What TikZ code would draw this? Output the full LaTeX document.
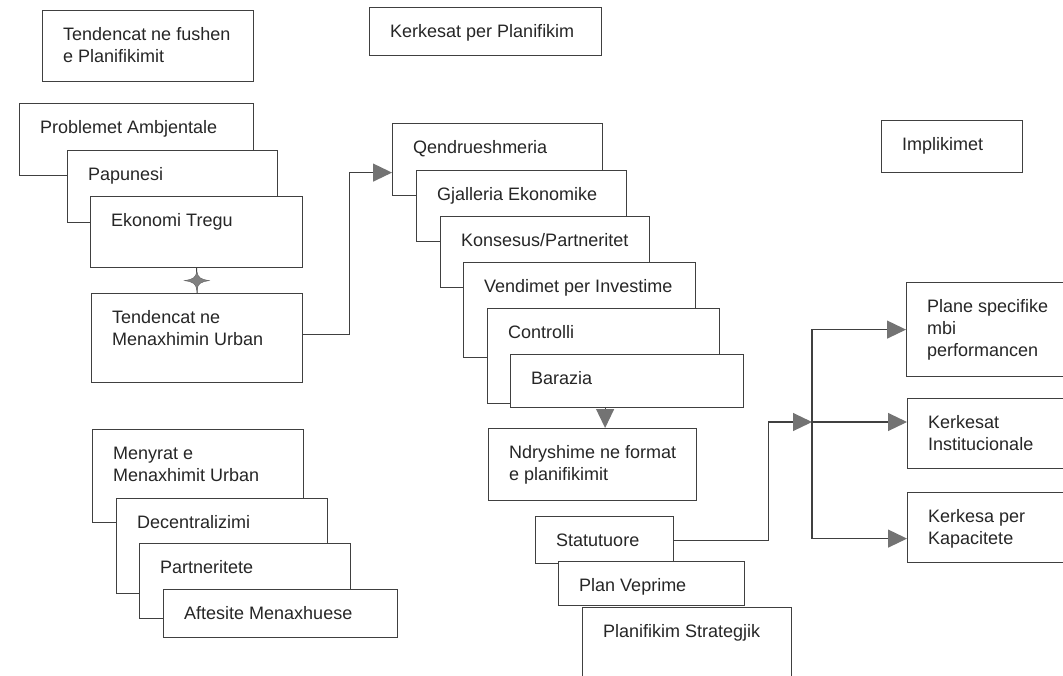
\documentclass[tikz,border=0pt]{standalone}
\usepackage{fontspec}
\setmainfont{Liberation Sans}
\usetikzlibrary{arrows.meta,calc}
\tikzset{
  box/.style={draw=black!75, line width=1.2pt, fill=white, inner sep=0pt, anchor=north west, rectangle},
  txt/.style={anchor=north west, inner sep=0pt, align=left, text=black!85, font=\fontsize{18}{22}\selectfont},
  conn/.style={draw=black!75, line width=1.1pt},
  tip/.style={-{Triangle[length=19pt,width=18pt,color=black!55]}},
  sparkle/.style={fill=black!50, draw=black!60, line width=0.4pt}
}
\newcommand\bx[6]{%
  \node[box, minimum width={#4pt-#2pt}, minimum height={#5pt-#3pt}] (#1) at (#2,#3) {};
  \node[txt] (#1-t) at ([shift={(21,16)}]#1.north west) {\rule{0pt}{14pt}#6};
}
\begin{document}
\begin{tikzpicture}[x=1pt,y=-1pt]
\useasboundingbox (0,0) rectangle (1063,675);
\fill[white] (0,0) rectangle (1063,675);
\clip (0,0) rectangle (1063,675);
% headers
\bx{tfp}{42}{10}{253}{81}{Tendencat ne fushen\\e Planifikimit}
\bx{kpp}{369}{7}{601}{55}{Kerkesat per Planifikim}
\bx{imp}{881}{120}{1022}{172}{Implikimet}
% left stack
\bx{pa}{19}{103}{253}{175}{Problemet Ambjentale}
\bx{pap}{67}{150}{277}{222}{Papunesi}
\bx{eko}{90}{196}{302}{267}{Ekonomi Tregu}
\bx{tmu}{91}{293}{302}{382}{Tendencat ne\\Menaxhimin Urban}
% middle stack
\bx{qen}{392}{123}{602}{195}{Qendrueshmeria}
\bx{gja}{416}{170}{626}{241}{Gjalleria Ekonomike}
\bx{kon}{440}{216}{649}{287}{Konsesus/Partneritet}
\bx{ven}{463}{262}{695}{357}{Vendimet per Investime}
\bx{con}{487}{308}{719}{403}{Controlli}
\bx{bar}{510}{354}{743}{407}{Barazia}
\bx{ndr}{488}{428}{696}{500}{Ndryshime ne format\\e planifikimit}
% lower left stack
\bx{men}{92}{429}{303}{522}{Menyrat e\\Menaxhimit Urban}
\bx{dec}{116}{498}{327}{593}{Decentralizimi}
\bx{par}{139}{543}{350}{618}{Partneritete}
\bx{aft}{163}{589}{397}{637}{Aftesite Menaxhuese}
% lower middle stack
\bx{sta}{535}{516}{673}{563}{Statutuore}
\bx{plv}{558}{561}{744}{605}{Plan Veprime}
\bx{pst}{582}{607}{791}{700}{Planifikim Strategjik}
% right column
\bx{pls}{906}{282}{1075}{376}{Plane specifike\\mbi\\performancen}
\bx{ins}{907}{398}{1075}{468}{Kerkesat\\Institucionale}
\bx{kap}{907}{492}{1075}{562}{Kerkesa per\\Kapacitete}
% connectors
\draw[conn] (eko.south) -- (tmu.north);
\coordinate (st) at ($(eko.south)!0.5!(tmu.north)$);
\begin{scope}[shift={(st)}]
  \filldraw[sparkle] (-12.5,0) .. controls (-3,-1.5) and (-1.5,-3) .. (0,-9)
    .. controls (1.5,-3) and (3,-1.5) .. (12.5,0)
    .. controls (3,1.5) and (1.5,3) .. (0,9)
    .. controls (-1.5,3) and (-3,1.5) .. (-12.5,0) -- cycle;
\end{scope}
\draw[conn,tip] ([yshift=3.5pt]tmu.east) -- ++(46,0) |- ([yshift=-13pt]qen.west);
\draw[conn,tip] ([xshift=-22pt]bar.south) coordinate (a1) -- (a1 |- ndr.north);
\coordinate (jn) at (812,422);
\draw[conn,tip] (sta.east) -- ++(94,0) |- (jn);
\draw[conn,tip] (jn) |- (pls.west);
\draw[conn,tip] (jn) -- (ins.west |- jn);
\draw[conn,tip] (jn) |- ([yshift=-11pt]kap.west);
\end{tikzpicture}
\end{document}
